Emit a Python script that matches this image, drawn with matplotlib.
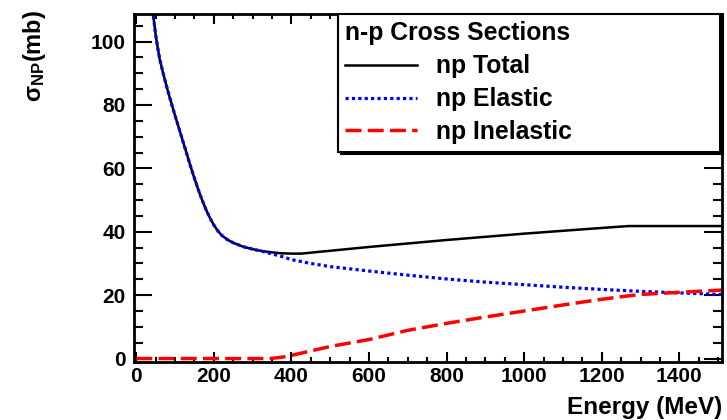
import matplotlib
matplotlib.use("Agg")
import matplotlib.pyplot as plt
from matplotlib.ticker import MultipleLocator

plt.rcParams['font.family'] = ['Liberation Sans', 'DejaVu Sans']
plt.rcParams['font.weight'] = 'bold'
plt.rcParams['mathtext.fontset'] = 'custom'
plt.rcParams['mathtext.rm'] = 'Liberation Sans'
plt.rcParams['mathtext.bf'] = 'Liberation Sans:bold'
plt.rcParams['mathtext.it'] = 'Liberation Sans:italic'

# ---- data ----
total_E = [42, 46, 50, 55, 60, 70, 80, 90, 100, 110, 120, 130, 140, 150, 160,
           170, 180, 190, 200, 210, 220, 235, 250, 275, 300, 325, 350, 375,
           400, 425, 450, 500, 600, 700, 800, 900, 1000, 1100, 1200, 1270,
           1300, 1400, 1510]
total_xs = [110, 106, 102, 98.2, 94.6, 89.6, 85.0, 80.7, 76.6, 72.6, 68.6,
            64.6, 60.6, 56.8, 53.2, 49.9, 46.9, 44.3, 42.1, 40.3, 38.9, 37.5,
            36.5, 35.3, 34.5, 33.9, 33.5, 33.2, 33.1, 33.1, 33.4, 34.0, 35.2,
            36.3, 37.4, 38.4, 39.4, 40.3, 41.2, 41.8, 41.8, 41.8, 41.8]

elastic_E = [42, 46, 50, 55, 60, 70, 80, 90, 100, 110, 120, 130, 140, 150, 160,
             170, 180, 190, 200, 210, 220, 235, 250, 275, 300, 325, 350, 375,
             400, 450, 500, 600, 700, 800, 900, 1000, 1100, 1200, 1300, 1400,
             1510]
elastic_xs = [110, 106, 102, 98.2, 94.6, 89.6, 85.0, 80.7, 76.6, 72.6, 68.6,
              64.6, 60.6, 56.8, 53.2, 49.9, 46.9, 44.3, 42.1, 40.3, 38.9, 37.5,
              36.5, 35.3, 34.5, 33.8, 33.0, 32.2, 31.2, 30.0, 29.0, 27.6, 26.3,
              25.1, 24.1, 23.3, 22.5, 21.8, 21.2, 20.7, 20.2]

inel_E = [0, 100, 200, 300, 340, 360, 380, 400, 450, 500, 550, 600, 700, 800,
          900, 1000, 1100, 1200, 1270, 1300, 1400, 1510]
inel_xs = [0, 0, 0, 0, 0, 0.2, 0.5, 1.0, 2.4, 3.8, 4.9, 6.0, 8.9, 11.1, 13.1,
           15.0, 16.9, 18.7, 19.8, 20.2, 20.9, 21.6]

labels = ["np Total", "np Elastic", "np Inelastic"]
legend_title = "n-p Cross Sections"

fig = plt.figure(figsize=(7.27, 4.20), dpi=100)
ax = fig.add_axes([0.1843, 0.1388, 0.9931 - 0.1843, 0.9667 - 0.1388])

l1, = ax.plot(total_E, total_xs, color='black', lw=1.8, label=labels[0])
l2, = ax.plot(elastic_E, elastic_xs, color='#0000ff', lw=2.3, ls=(0, (1.0, 1.0)),
              label=labels[1])
l3, = ax.plot(inel_E, inel_xs, color='#ff0000', lw=2.5, ls=(0, (4.6, 1.8)),
              label=labels[2])

ax.set_xlim(-6, 1510)
ax.set_ylim(-1.0, 108.7)

ax.xaxis.set_major_locator(MultipleLocator(200))
ax.xaxis.set_minor_locator(MultipleLocator(50))
ax.yaxis.set_major_locator(MultipleLocator(20))
ax.yaxis.set_minor_locator(MultipleLocator(5))

ax.tick_params(axis='both', which='both', direction='in', top=True, right=True,
               width=1.5, colors='black')
ax.tick_params(axis='x', which='major', length=7.5, pad=4, labelsize=15)
ax.tick_params(axis='x', which='minor', length=3.8)
ax.tick_params(axis='y', which='major', length=13, pad=6, labelsize=15)
ax.tick_params(axis='y', which='minor', length=6.5)
for lab in ax.get_xticklabels() + ax.get_yticklabels():
    lab.set_fontweight('bold')
for s in ax.spines.values():
    s.set_linewidth(2.0)

ax.set_xlabel("Energy (MeV)", loc='right', fontsize=17.5, fontweight='bold',
              labelpad=7)
ax.set_ylabel(r"σ$_{\mathbf{NP}}$(mb)", loc='top', fontsize=17,
              fontweight='bold')
ax.yaxis.set_label_coords(-0.147, 1.012)

leg = ax.legend(handles=[l1, l2, l3], loc='upper left', mode='expand',
                bbox_to_anchor=(0.347, 0.0, 0.650, 1.0), title=legend_title,
                alignment='left', fontsize=17.8,
                title_fontproperties={'weight': 'bold', 'size': 17.8},
                frameon=True, fancybox=False, edgecolor='black', framealpha=1,
                shadow={'color': 'black', 'alpha': 1.0}, borderaxespad=0,
                handlelength=2.9, handletextpad=0.75, labelspacing=0.36,
                borderpad=0.3)
leg.get_frame().set_linewidth(1.5)
for t in leg.get_texts():
    t.set_fontweight('bold')

fig.savefig("out.png", dpi=100)
